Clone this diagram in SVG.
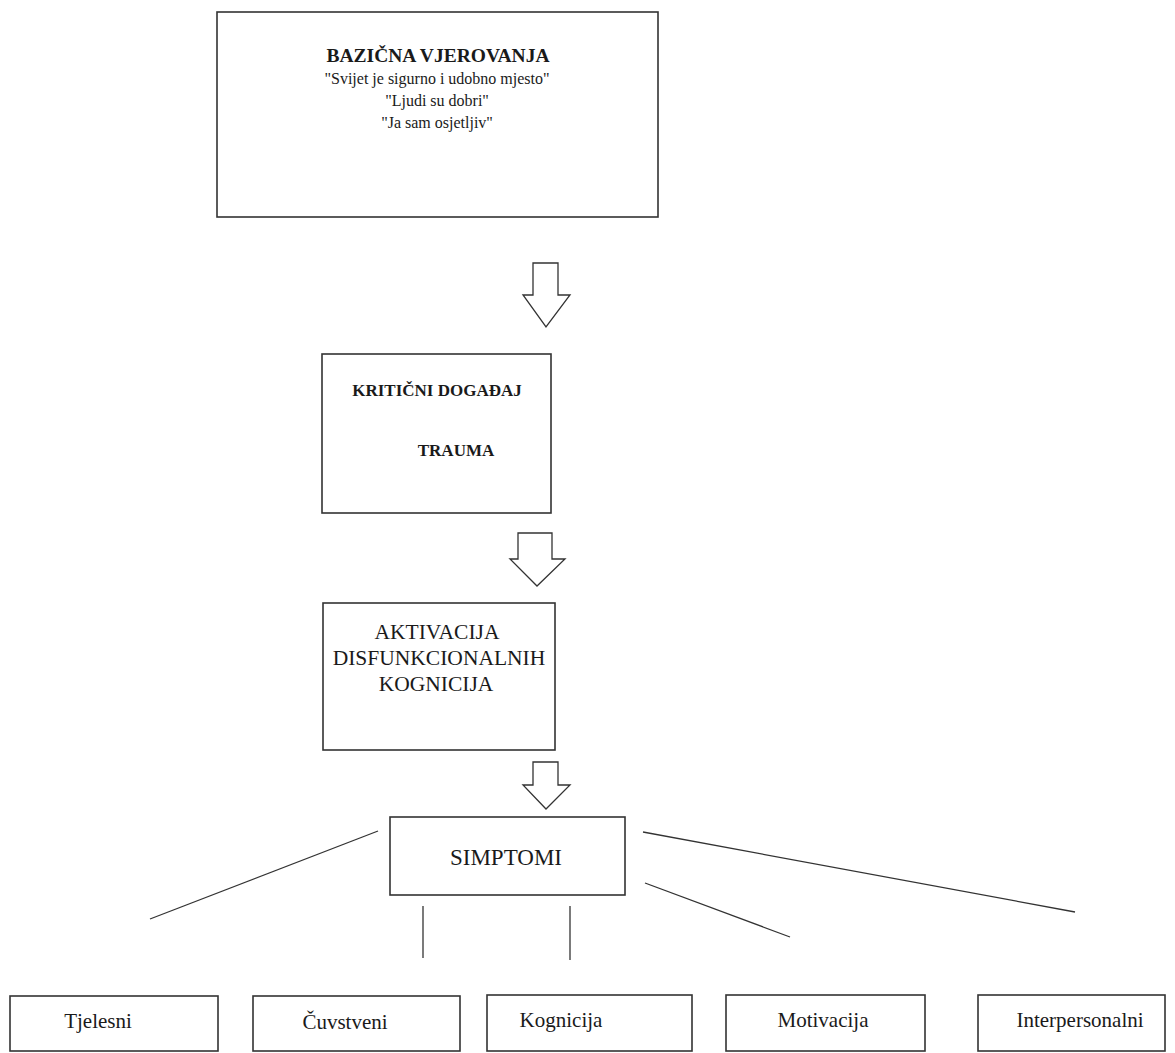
<svg xmlns="http://www.w3.org/2000/svg" width="1175" height="1053" viewBox="0 0 1175 1053">
<style>
.box{fill:#fff;stroke:#333;stroke-width:1.6}
.arrow{fill:#fff;stroke:#333;stroke-width:1.3;stroke-linejoin:miter}
.ln{stroke:#333;stroke-width:1.3;fill:none}
text{font-family:"Liberation Serif","Times New Roman",serif;fill:#1a1a1a;text-anchor:middle}
.b{font-weight:bold}
</style>
<rect width="1175" height="1053" fill="#fff"/>
<g id="node-bazicna">
<rect class="box" x="217" y="12" width="441" height="205"/>
<text class="b" x="438" y="62" font-size="19.5">BAZIČNA VJEROVANJA</text>
<text x="437" y="84" font-size="16">"Svijet je sigurno i udobno mjesto"</text>
<text x="437" y="106" font-size="16">"Ljudi su dobri"</text>
<text x="437" y="128" font-size="16">"Ja sam osjetljiv"</text>
</g>
<g id="node-kriticni">
<rect class="box" x="322" y="354" width="229" height="159"/>
<text class="b" x="437" y="396" font-size="17">KRITIČNI DOGAĐAJ</text>
<text class="b" x="456" y="456" font-size="17">TRAUMA</text>
</g>
<g id="node-aktivacija">
<rect class="box" x="323" y="603" width="232" height="147"/>
<text x="437" y="639" font-size="21.5">AKTIVACIJA</text>
<text x="439" y="665" font-size="21.5">DISFUNKCIONALNIH</text>
<text x="436" y="691" font-size="21.5">KOGNICIJA</text>
</g>
<g id="node-simptomi">
<rect class="box" x="390" y="817" width="235" height="78"/>
<text x="506" y="865" font-size="23">SIMPTOMI</text>
</g>
<g id="node-tjelesni">
<rect class="box" x="10" y="996" width="208" height="55"/>
<text x="98" y="1028" font-size="21">Tjelesni</text>
</g>
<g id="node-cuvstveni">
<rect class="box" x="253" y="996" width="207" height="55"/>
<text x="345" y="1029" font-size="21">Čuvstveni</text>
</g>
<g id="node-kognicija">
<rect class="box" x="487" y="995" width="205" height="56"/>
<text x="561" y="1027" font-size="21">Kognicija</text>
</g>
<g id="node-motivacija">
<rect class="box" x="726" y="995" width="199" height="56"/>
<text x="823" y="1027" font-size="21">Motivacija</text>
</g>
<g id="node-interpersonalni">
<rect class="box" x="978" y="995" width="187" height="56"/>
<text x="1080" y="1027" font-size="21">Interpersonalni</text>
</g>
<g id="connectors">
<polygon class="arrow" points="533,263 558,263 558,295 570,295 546,327 523,295 533,295"/>
<polygon class="arrow" points="518,533 552,533 552,559 565,559 537,586 510,559 518,559"/>
<polygon class="arrow" points="533,762 558,762 558,785 570,785 546,809 523,785 533,785"/>
<line class="ln" x1="378" y1="831" x2="150" y2="919"/>
<line class="ln" x1="423" y1="906" x2="423" y2="958"/>
<line class="ln" x1="570" y1="906" x2="570" y2="960"/>
<line class="ln" x1="645" y1="883" x2="790" y2="937"/>
<line class="ln" x1="643" y1="832" x2="1075" y2="912"/>
</g>
</svg>
